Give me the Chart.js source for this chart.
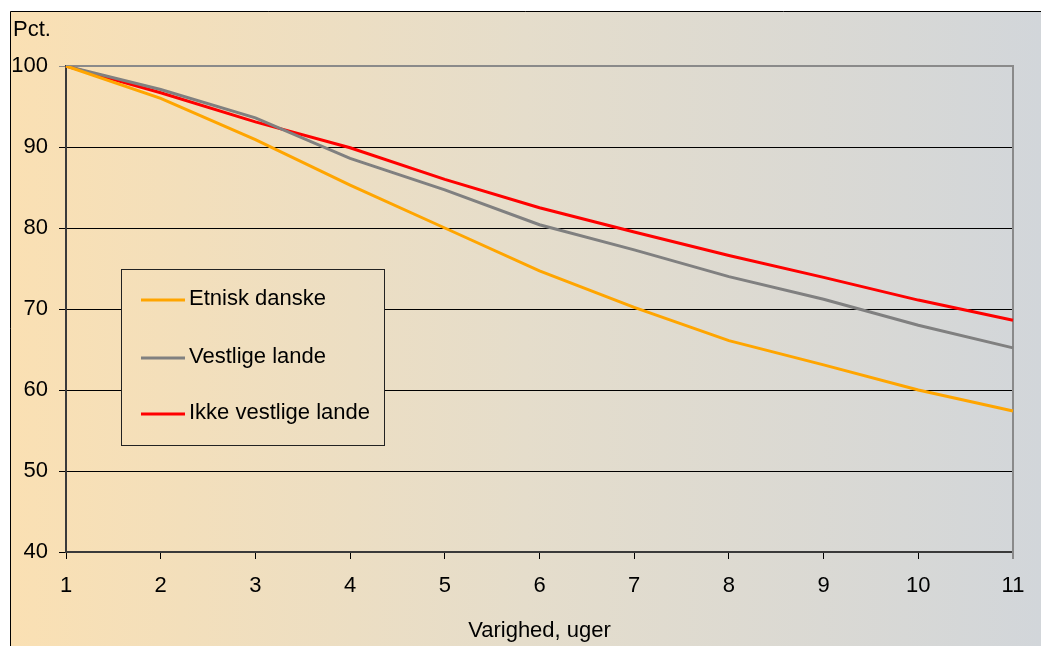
<!DOCTYPE html>
<html>
<head>
<meta charset="utf-8">
<script src="https://cdn.jsdelivr.net/npm/chart.js@4/dist/chart.umd.min.js"></script>
<style>
  html, body { margin: 0; padding: 0; background: #ffffff; }
  #wrap { width: 1041px; height: 646px; }
</style>
</head>
<body>
<div id="wrap"><canvas id="chart" width="1041" height="646"></canvas></div>
<script>
// values
const weeks = ['1', '2', '3', '4', '5', '6', '7', '8', '9', '10', '11'];
const etniskDanske = [100, 96.0, 90.9, 85.3, 80.0, 74.7, 70.2, 66.1, 63.1, 60.0, 57.4];
const vestligeLande = [100, 97.1, 93.6, 88.6, 84.7, 80.4, 77.3, 74.0, 71.2, 68.0, 65.2];
const ikkeVestligeLande = [100, 96.7, 93.1, 89.9, 86.0, 82.5, 79.5, 76.6, 73.9, 71.1, 68.6];
const seriesNames = ['Etnisk danske', 'Vestlige lande', 'Ikke vestlige lande'];
const seriesColors = ['#FFA500', '#808080', '#FF0000'];
const yTitle = 'Pct.';
const xTitle = 'Varighed, uger';

const FONT = "Arial, 'Liberation Sans', sans-serif";
const FONT_SIZE = 22;

function makeGradient(ctx, x0, x1) {
    const g = ctx.createLinearGradient(x0, 0, x1, 0);
    g.addColorStop(0, '#FAE0B3');
    g.addColorStop(0.5, '#E5DDCB');
    g.addColorStop(1, '#D2D6DA');
    return g;
}

// background + outer frame
const backgroundPlugin = {
    id: 'background',
    beforeDraw(chart) {
        const ctx = chart.ctx;
        ctx.save();
        ctx.fillStyle = '#ffffff';
        ctx.fillRect(0, 0, chart.width, chart.height);
        ctx.fillStyle = makeGradient(ctx, 10, chart.width);
        ctx.fillRect(10, 11, chart.width - 10, chart.height - 11);
        ctx.strokeStyle = '#000000';
        ctx.lineWidth = 1;
        ctx.beginPath();
        ctx.moveTo(10.5, chart.height);
        ctx.lineTo(10.5, 11.5);
        ctx.lineTo(chart.width, 11.5);
        ctx.stroke();
        ctx.restore();
    },
    beforeDatasetsDraw(chart) {
        // grey frame on top and right of the plot area
        const a = chart.chartArea;
        const ctx = chart.ctx;
        ctx.save();
        ctx.strokeStyle = '#8A8A8A';
        ctx.lineWidth = 2;
        ctx.beginPath();
        ctx.moveTo(a.left, a.top);
        ctx.lineTo(a.right, a.top);
        ctx.lineTo(a.right, a.bottom + 7);
        ctx.stroke();
        ctx.restore();
    },
    afterDraw(chart) {
        const ctx = chart.ctx;
        ctx.save();
        ctx.font = FONT_SIZE + 'px ' + FONT;
        ctx.fillStyle = '#000000';
        ctx.textBaseline = 'alphabetic';
        ctx.textAlign = 'left';
        ctx.fillText(yTitle, 13, 36);
        ctx.restore();
    }
};

// legend box inside the plot
const boxLegendPlugin = {
    id: 'boxLegend',
    afterDatasetsDraw(chart) {
        const ctx = chart.ctx;
        const x = 121, y = 269, w = 263, h = 176;
        ctx.save();
        ctx.fillStyle = makeGradient(ctx, 10, chart.width);
        ctx.fillRect(x, y, w, h);
        ctx.strokeStyle = '#222222';
        ctx.lineWidth = 1;
        ctx.strokeRect(x + 0.5, y + 0.5, w, h);
        const rows = [300, 358, 414];
        ctx.font = FONT_SIZE + 'px ' + FONT;
        ctx.textBaseline = 'alphabetic';
        ctx.textAlign = 'left';
        chart.data.datasets.forEach((ds, i) => {
            ctx.strokeStyle = ds.borderColor;
            ctx.lineWidth = 3;
            ctx.beginPath();
            ctx.moveTo(141, rows[i]);
            ctx.lineTo(185, rows[i]);
            ctx.stroke();
            ctx.fillStyle = '#000000';
            ctx.fillText(ds.label, 189, rows[i] + 5);
        });
        ctx.restore();
    }
};

const datasets = [etniskDanske, vestligeLande, ikkeVestligeLande].map((values, i) => ({
    label: seriesNames[i],
    data: values,
    borderColor: seriesColors[i],
    backgroundColor: seriesColors[i],
    borderWidth: 3,
    pointRadius: 0,
    tension: 0,
    fill: false,
}));

new Chart(document.getElementById('chart'), {
    type: 'line',
    data: { labels: weeks, datasets: datasets },
    options: {
        responsive: false,
        animation: false,
        devicePixelRatio: 1,
        layout: { padding: { top: 66, right: 28, left: 0, bottom: 0 } },
        plugins: {
            legend: { display: false },
            tooltip: { enabled: false },
        },
        scales: {
            x: {
                type: 'category',
                offset: false,
                afterFit(scale) { scale.height = 94; },
                border: { display: true, color: '#3A3A3A', width: 2 },
                grid: {
                    drawOnChartArea: false,
                    drawTicks: true,
                    tickLength: 7,
                    color: '#000000',
                    lineWidth: 1,
                },
                ticks: {
                    padding: 14,
                    color: '#000000',
                    maxRotation: 0,
                    font: { family: FONT, size: FONT_SIZE },
                },
                title: {
                    display: true,
                    text: xTitle,
                    color: '#000000',
                    font: { family: FONT, size: FONT_SIZE },
                    padding: { top: 0, bottom: 2 },
                },
            },
            y: {
                min: 40,
                max: 100,
                afterFit(scale) { scale.width = 66; },
                border: { display: true, color: '#3A3A3A', width: 2 },
                grid: {
                    drawTicks: true,
                    tickLength: 7,
                    color(c) { return c.tick && c.tick.value === 100 ? '#8A8A8A' : '#000000'; },
                    lineWidth: 1,
                },
                ticks: {
                    stepSize: 10,
                    padding: 11,
                    color: '#000000',
                    font: { family: FONT, size: FONT_SIZE },
                },
            },
        },
    },
    plugins: [backgroundPlugin, boxLegendPlugin],
});
</script>
</body>
</html>
